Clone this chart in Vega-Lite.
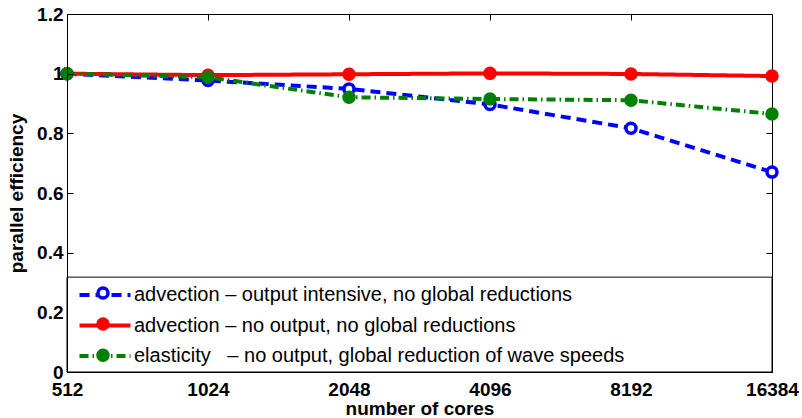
{
  "$schema": "https://vega.github.io/schema/vega-lite/v6.json",
  "width": 705,
  "height": 358,
  "autosize": {"type": "none"},
  "padding": {"left": 67, "top": 14, "right": 30, "bottom": 46},
  "background": "white",
  "config": {
    "font": "Liberation Sans",
    "view": {"stroke": "black", "strokeWidth": 1},
    "axis": {
      "grid": false,
      "labelFont": "Liberation Sans",
      "labelFontWeight": "bold",
      "labelFontSize": 19,
      "labelColor": "black",
      "labelOverlap": false,
      "labelFlush": false,
      "labelBound": false,
      "titleFont": "Liberation Sans",
      "titleFontWeight": "bold",
      "titleFontSize": 19,
      "titleColor": "black",
      "domainColor": "black",
      "domainWidth": 1,
      "tickColor": "black",
      "tickSize": -6,
      "tickWidth": 1
    }
  },
  "resolve": {"axis": {"x": "independent", "y": "independent"}},
  "data": {
    "values": [
      {"cores": 512, "eff": 1.0, "series": "advection – output intensive, no global reductions"},
      {"cores": 1024, "eff": 0.977, "series": "advection – output intensive, no global reductions"},
      {"cores": 2048, "eff": 0.949, "series": "advection – output intensive, no global reductions"},
      {"cores": 4096, "eff": 0.897, "series": "advection – output intensive, no global reductions"},
      {"cores": 8192, "eff": 0.817, "series": "advection – output intensive, no global reductions"},
      {"cores": 16384, "eff": 0.670, "series": "advection – output intensive, no global reductions"},
      {"cores": 512, "eff": 1.0, "series": "advection – no output, no global reductions"},
      {"cores": 1024, "eff": 0.995, "series": "advection – no output, no global reductions"},
      {"cores": 2048, "eff": 0.998, "series": "advection – no output, no global reductions"},
      {"cores": 4096, "eff": 1.001, "series": "advection – no output, no global reductions"},
      {"cores": 8192, "eff": 0.999, "series": "advection – no output, no global reductions"},
      {"cores": 16384, "eff": 0.992, "series": "advection – no output, no global reductions"},
      {"cores": 512, "eff": 1.0, "series": "elasticity\u00a0\u00a0\u00a0– no output, global reduction of wave speeds"},
      {"cores": 1024, "eff": 0.988, "series": "elasticity\u00a0\u00a0\u00a0– no output, global reduction of wave speeds"},
      {"cores": 2048, "eff": 0.921, "series": "elasticity\u00a0\u00a0\u00a0– no output, global reduction of wave speeds"},
      {"cores": 4096, "eff": 0.915, "series": "elasticity\u00a0\u00a0\u00a0– no output, global reduction of wave speeds"},
      {"cores": 8192, "eff": 0.911, "series": "elasticity\u00a0\u00a0\u00a0– no output, global reduction of wave speeds"},
      {"cores": 16384, "eff": 0.865, "series": "elasticity\u00a0\u00a0\u00a0– no output, global reduction of wave speeds"}
    ]
  },
  "layer": [
    {
      "mark": {"type": "line", "strokeWidth": 4},
      "encoding": {
        "x": {"field": "cores", "type": "quantitative", "title": "number of cores",
              "scale": {"type": "log", "base": 2, "domain": [512, 16384], "nice": false},
              "axis": {"orient": "bottom", "values": [512, 1024, 2048, 4096, 8192, 16384], "format": "d", "labelPadding": 14, "titlePadding": 0, "labelAngle": 0, "labelFlush": false}},
        "y": {"field": "eff", "type": "quantitative", "title": "parallel efficiency",
              "scale": {"domain": [0, 1.2], "nice": false, "zero": false},
              "axis": {"orient": "left", "zindex": 1, "values": [0, 0.2, 0.4, 0.6, 0.8, 1, 1.2], "format": "~g", "labelPadding": 10, "titlePadding": 10, "labelFlush": false, "labelOverlap": false,
                       "tickColor": {"condition": {"test": "datum.value < 0.3", "value": "transparent"}, "value": "black"}}},
        "stroke": {
          "field": "series", "type": "nominal",
          "scale": {"domain": ["advection – output intensive, no global reductions", "advection – no output, no global reductions", "elasticity\u00a0\u00a0\u00a0– no output, global reduction of wave speeds"], "range": ["#0000ff", "#ff0000", "#008000"]},
          "legend": {"orient": "none", "legendX": 28, "legendY": 271, "title": null, "padding": 0, "symbolType": "M-5,0H5", "symbolSize": 104, "symbolStrokeWidth": 4, "labelOffset": 19, "labelFont": "Liberation Sans", "labelFontSize": 20, "labelFontWeight": "normal", "labelColor": "black", "rowPadding": 10.5, "labelLimit": 700}
        },
        "strokeDash": {
          "field": "series", "type": "nominal",
          "scale": {"domain": ["advection – output intensive, no global reductions", "advection – no output, no global reductions", "elasticity\u00a0\u00a0\u00a0– no output, global reduction of wave speeds"], "range": [[10, 6], [1, 0], [9, 4, 1.5, 4]]}
        }
      }
    },
    {
      "mark": {"type": "point", "size": 100, "strokeWidth": 3.5, "opacity": 1},
      "encoding": {
        "x": {"field": "cores", "type": "quantitative", "axis": null},
        "y": {"field": "eff", "type": "quantitative", "axis": null},
        "color": {
          "field": "series", "type": "nominal",
          "scale": {"domain": ["advection – output intensive, no global reductions", "advection – no output, no global reductions", "elasticity\u00a0\u00a0\u00a0– no output, global reduction of wave speeds"], "range": ["#0000ff", "#ff0000", "#008000"]},
          "legend": {"orient": "bottom-left", "offset": 4, "title": null, "padding": 0, "symbolType": "circle", "symbolSize": 100, "symbolStrokeWidth": 3.5, "symbolOffset": 25, "labelExpr": "''", "rowPadding": 7.1,
                     "encode": {"symbols": {"update": {"fill": {"scale": "fill", "field": "value"}, "fillOpacity": {"value": 1}}}}}
        },
        "fill": {
          "field": "series", "type": "nominal",
          "scale": {"domain": ["advection – output intensive, no global reductions", "advection – no output, no global reductions", "elasticity\u00a0\u00a0\u00a0– no output, global reduction of wave speeds"], "range": ["#ffffff", "#ff0000", "#008000"]},
          "legend": null
        }
      }
    },
    {
      "mark": {"type": "rect", "fill": "white", "stroke": "black", "strokeWidth": 1},
      "encoding": {
        "x": {"aggregate": "min", "field": "cores", "type": "quantitative",
              "axis": {"orient": "top", "values": [512, 1024, 2048, 4096, 8192, 16384], "labels": false, "title": null, "domain": false}},
        "x2": {"aggregate": "max", "field": "cores"},
        "y": {"datum": 0, "type": "quantitative",
              "axis": {"orient": "right", "values": [0, 0.2, 0.4, 0.6, 0.8, 1, 1.2], "labels": false, "title": null, "domain": false}},
        "y2": {"datum": 0.318}
      }
    }
  ]
}
